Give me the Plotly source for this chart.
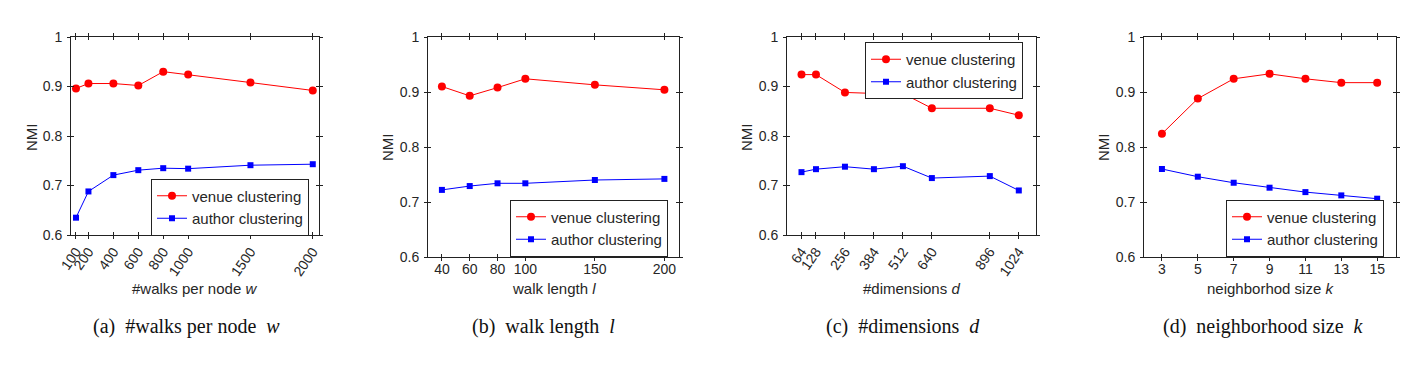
import plotly.graph_objects as go

W, H = 1410, 367
OFF = 8  # page body margin of the browser

# ---------------- data ----------------
walks_x = [100, 200, 400, 600, 800, 1000, 1500, 2000]
walks_venue = [0.896, 0.906, 0.906, 0.902, 0.930, 0.924, 0.908, 0.892]
walks_author = [0.635, 0.688, 0.721, 0.731, 0.735, 0.734, 0.741, 0.743]

length_x = [40, 60, 80, 100, 150, 200]
length_venue = [0.910, 0.893, 0.908, 0.924, 0.913, 0.904]
length_author = [0.722, 0.729, 0.734, 0.734, 0.740, 0.742]

dims_x = [64, 128, 256, 384, 512, 640, 896, 1024]
dims_venue = [0.924, 0.924, 0.888, 0.886, 0.886, 0.856, 0.856, 0.842]
dims_author = [0.727, 0.733, 0.738, 0.733, 0.739, 0.715, 0.719, 0.690]

k_x = [3, 5, 7, 9, 11, 13, 15]
k_venue = [0.824, 0.888, 0.924, 0.933, 0.924, 0.917, 0.917]
k_author = [0.760, 0.746, 0.735, 0.726, 0.718, 0.712, 0.706]

y_tickvals = [0.6, 0.7, 0.8, 0.9, 1.0]
y_ticktext = ["0.6", "0.7", "0.8", "0.9", "1"]

series_names = ["venue clustering", "author clustering"]
x_titles = ["#walks per node <i>w</i>", "walk length <i>l</i>",
            "#dimensions <i>d</i>", "neighborhod size <i>k</i>"]
captions = ["(a)  #walks per node  <i>w</i>", "(b)  walk length  <i>l</i>",
            "(c)  #dimensions  <i>d</i>", "(d)  neighborhood size  <i>k</i>"]

# ---------------- layout geometry (page pixels) ----------------
panels = [
    dict(x=walks_x, v=walks_venue, a=walks_author, px=(71, 319), py=(37, 235),
         xr=[60, 2050], angle=-55, tsize=14, so=-1, leg=(309, 207, "right", "middle"),
         nmi=(31, 137), cap=186),
    dict(x=length_x, v=length_venue, a=length_author, px=(428, 679), py=(37, 257),
         xr=[30, 210.5], angle=0, tsize=14, so=-4, leg=(668, 228, "right", "middle"),
         nmi=(388, 147), cap=543),
    dict(x=dims_x, v=dims_venue, a=dims_author, px=(787, 1036), py=(37, 235),
         xr=[0, 1100], angle=-55, tsize=14, so=-1, leg=(1023, 42, "right", "top"),
         nmi=(746, 137), cap=903),
    dict(x=k_x, v=k_venue, a=k_author, px=(1144, 1396), py=(37, 257),
         xr=[2, 16.05], angle=0, tsize=14, so=-4, leg=(1384, 228, "right", "middle"),
         nmi=(1104, 147), cap=1263),
]

FW, FH = W - OFF, H - OFF


def fx(px):
    return (px - OFF) / FW


def fy(py):
    return 1 - (py - OFF) / FH


TXT = "#262626"
AX = "#222222"
FONT = "Liberation Sans"
fig = go.Figure()
layout = dict(template="none", width=FW, height=FH, margin=dict(l=0, r=0, t=0, b=0, pad=0),
              paper_bgcolor="white", plot_bgcolor="white", showlegend=True,
              font=dict(family=FONT, size=15, color=TXT))
annotations = []

for i, p in enumerate(panels):
    n = i + 1
    sfx = "" if n == 1 else str(n)
    ov = str(n + 4)
    leg = "legend" if n == 1 else f"legend{n}"
    xd = [fx(p["px"][0]), fx(p["px"][1])]
    yd = [fy(p["py"][1]), fy(p["py"][0])]

    fig.add_trace(go.Scatter(x=p["x"], y=p["v"], mode="lines+markers", name=series_names[0],
                             line=dict(color="#ff0000", width=1),
                             marker=dict(symbol="circle", size=8, color="#ff0000",
                                         line=dict(width=0)),
                             xaxis="x" + sfx, yaxis="y" + sfx, legend=leg))
    fig.add_trace(go.Scatter(x=p["x"], y=p["a"], mode="lines+markers", name=series_names[1],
                             line=dict(color="#0000ff", width=1),
                             marker=dict(symbol="square", size=6, color="#0000ff",
                                         line=dict(width=0)),
                             xaxis="x" + sfx, yaxis="y" + sfx, legend=leg))
    # invisible trace on overlay axes (inward half of the crossing ticks)
    fig.add_trace(go.Scatter(x=[p["xr"][0]], y=[0.6], mode="markers", marker=dict(opacity=0),
                             showlegend=False, hoverinfo="skip",
                             xaxis="x" + ov, yaxis="y" + ov))

    common_x = dict(range=p["xr"], tickmode="array", tickvals=p["x"],
                    ticktext=[str(v) for v in p["x"]], showgrid=False, zeroline=False,
                    automargin=False, fixedrange=True)
    common_y = dict(range=[0.6, 1.0], tickmode="array", tickvals=y_tickvals,
                    ticktext=y_ticktext, showgrid=False, zeroline=False,
                    automargin=False, fixedrange=True)

    layout["xaxis" + sfx] = dict(domain=xd, anchor="y" + sfx, showline=True, linecolor=AX,
                                 linewidth=1, mirror="ticks", ticks="outside", ticklen=3,
                                 tickwidth=1, tickcolor=AX, tickangle=p["angle"],
                                 tickfont=dict(family=FONT, size=p["tsize"], color=TXT),
                                 ticklabelstandoff=p["so"], **common_x)
    layout["yaxis" + sfx] = dict(domain=yd, anchor="x" + sfx, showline=True, linecolor=AX,
                                 linewidth=1, mirror="ticks", ticks="outside", ticklen=3,
                                 tickwidth=1, tickcolor=AX,
                                 tickfont=dict(family=FONT, size=14, color=TXT),
                                 ticklabelstandoff=2, **common_y)
    layout["xaxis" + ov] = dict(overlaying="x" + sfx, anchor="y" + ov, showline=False,
                                mirror="ticks", ticks="inside", ticklen=3, tickwidth=1,
                                tickcolor=AX, showticklabels=False, **common_x)
    layout["yaxis" + ov] = dict(overlaying="y" + sfx, anchor="x" + ov, showline=False,
                                mirror="ticks", ticks="inside", ticklen=3, tickwidth=1,
                                tickcolor=AX, showticklabels=False, **common_y)

    lx, ly, xa, ya = p["leg"]
    layout[leg] = dict(x=fx(lx), y=fy(ly), xanchor=xa, yanchor=ya, xref="paper", yref="paper",
                       bgcolor="white", bordercolor=AX, borderwidth=1,
                       font=dict(family=FONT, size=15, color=TXT), itemwidth=30,
                       tracegroupgap=0)

    cx = (p["px"][0] + p["px"][1]) / 2
    annotations.append(dict(text=x_titles[i], x=fx(cx), y=fy(288), xref="paper", yref="paper",
                            showarrow=False, xanchor="center", yanchor="middle",
                            font=dict(family=FONT, size=15, color=TXT)))
    annotations.append(dict(text="NMI", x=fx(p["nmi"][0]), y=fy(p["nmi"][1]), xref="paper",
                            yref="paper", showarrow=False, textangle=-90, xanchor="center",
                            yanchor="middle", font=dict(family=FONT, size=15, color=TXT)))
    annotations.append(dict(text=captions[i], x=fx(p["cap"]), y=fy(326), xref="paper",
                            yref="paper", showarrow=False, xanchor="center", yanchor="middle",
                            font=dict(family="Liberation Serif", size=20, color="#111111")))

layout["annotations"] = annotations
fig.update_layout(**layout)
fig.write_html("out.html")
